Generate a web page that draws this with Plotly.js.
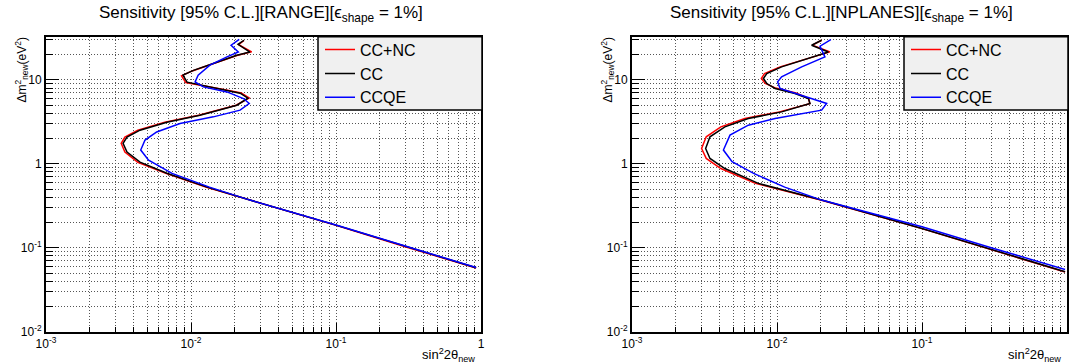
<!DOCTYPE html>
<html>
<head>
<meta charset="utf-8">
<script src="https://cdn.plot.ly/plotly-3.0.1.min.js"></script>
<style>html,body{margin:0;padding:0;background:#fff;}#plot{width:1070px;height:364px;}</style>
</head>
<body>
<div id="plot"></div>
<script>
// ---------- data ----------
const seriesNames = ['CC+NC', 'CC', 'CCQE'];
const seriesColors = ['#ff0000', '#000000', '#0000ff'];

// RANGE panel
const range_ccnc_x = [0.0232,0.0213,0.0262,0.0207,0.0140,0.0102,0.0086,0.0092,0.0175,0.0222,0.0252,0.0205,0.0113,0.0066,0.0043,0.0035,0.0033,0.0035,0.0043,0.0067,0.0128,0.0255,0.1,0.3,0.925];
const range_ccnc_y = [29.5,26.4,21.6,19.5,15.5,12.8,11.2,9.3,7.6,7.0,6.1,5.0,3.8,3.14,2.52,2.08,1.76,1.38,1.04,0.77,0.527,0.37,0.185,0.103,0.0575];
const range_cc_x = [0.0232,0.0211,0.0255,0.0207,0.01426,0.0104,0.0088,0.0094,0.0177,0.0218,0.0247,0.0207,0.01153,0.00682,0.00445,0.00362,0.0034,0.00362,0.00445,0.00682,0.0129,0.0255,0.1,0.3,0.925];
const range_cc_y = [29.7,26.6,21.5,19.7,15.7,13.0,11.4,9.4,7.5,6.95,6.06,5.0,3.8,3.13,2.52,2.08,1.76,1.38,1.05,0.774,0.528,0.37,0.186,0.104,0.0578];
const range_ccqe_x = [0.0215,0.0189,0.0212,0.0177,0.0135,0.0112,0.01067,0.01216,0.0177,0.023,0.0252,0.0218,0.01426,0.0084,0.0058,0.00482,0.0045,0.0049,0.0051,0.0074,0.0134,0.0255,0.1,0.3,0.925];
const range_ccqe_y = [30.5,25.9,21.5,18.8,15.0,11.4,9.47,8.26,7.2,6.0,5.24,4.36,3.63,3.03,2.4,1.92,1.46,1.2,1.107,0.77,0.528,0.37,0.187,0.105,0.0582];

// NPLANES panel
const nplanes_ccnc_x = [0.0203,0.0175,0.0232,0.0164,0.0105,0.0082,0.0078,0.0083,0.0098,0.0135,0.0166,0.0168,0.0104,0.0060,0.0041,0.00325,0.00302,0.00325,0.0041,0.0071,0.0200,0.1,0.3,0.97];
const nplanes_ccnc_y = [29.7,26.0,21.6,18.0,14.3,11.9,10.4,9.1,8.0,7.0,6.0,5.2,4.16,3.47,2.76,2.1,1.52,1.16,0.88,0.585,0.37,0.169,0.095,0.0515];
const nplanes_cc_x = [0.0203,0.01733,0.0226,0.01644,0.01076,0.0085,0.00806,0.0085,0.0097,0.0133,0.01644,0.0169,0.01076,0.00634,0.00437,0.00345,0.00322,0.00345,0.00437,0.00743,0.0203,0.1,0.3,0.97];
const nplanes_cc_y = [29.7,25.9,21.5,18.0,14.3,11.9,10.4,9.06,7.9,6.89,6.0,5.24,4.16,3.47,2.76,2.1,1.52,1.16,0.88,0.585,0.37,0.17,0.096,0.0518];
const nplanes_ccqe_x = [0.0235,0.0198,0.0214,0.0148,0.01076,0.0101,0.0105,0.0156,0.022,0.0203,0.0097,0.00634,0.00474,0.00427,0.0049,0.0069,0.0113,0.0203,0.1,0.3,0.97];
const nplanes_ccqe_y = [30.3,25.2,18.8,14.3,10.9,9.47,7.9,6.28,5.24,4.36,3.47,2.89,2.2,1.46,1.06,0.77,0.528,0.37,0.178,0.1,0.0552];

// axis ticks
const xMajor = [0.001, 0.01, 0.1, 1];
const xMajorText = ['10<sup>-3</sup>', '10<sup>-2</sup>', '10<sup>-1</sup>', '1'];
const yMajor = [0.01, 0.1, 1, 10];
const yMajorText = ['10<sup>-2</sup>', '10<sup>-1</sup>', '1', '10'];
const titles = ['Sensitivity [95% C.L.][RANGE][ϵ<sub>shape</sub> = 1%]',
                'Sensitivity [95% C.L.][NPLANES][ϵ<sub>shape</sub> = 1%]'];

// ---------- build ----------
function minorVals(startExp, endVal) {
  const v = [];
  for (let e = startExp; e < 3; e++) {
    for (let m = 2; m <= 9; m++) {
      const val = m * Math.pow(10, e);
      if (val < endVal) v.push(val);
    }
  }
  return v;
}
const xMinor = minorVals(-3, 1);
const yMinor = minorVals(-2, 33);

const W = 1070, H = 364;
const FONT = 'Liberation Sans, Arial, Helvetica, sans-serif';
const GRIDC = '#555', GRIDD = '1px,2px';
const panels = [
  {xs: [range_ccnc_x, range_cc_x, range_ccqe_x], ys: [range_ccnc_y, range_cc_y, range_ccqe_y], left: 46, right: 481, title: titles[0], tcx: 261},
  {xs: [nplanes_ccnc_x, nplanes_cc_x, nplanes_ccqe_x], ys: [nplanes_ccnc_y, nplanes_cc_y, nplanes_ccqe_y], left: 632, right: 1067, title: titles[1], tcx: 841}
];
const frameTop = 36.7, frameBottom = 331.7;

const data = [];
const layout = {
  width: W, height: H,
  margin: {l: 0, r: 0, t: 0, b: 0},
  paper_bgcolor: '#fff', plot_bgcolor: '#fff',
  font: {family: FONT, color: '#000'},
  showlegend: true,
  annotations: [], shapes: []
};

panels.forEach((p, i) => {
  const sfx = i === 0 ? '' : '2';
  for (let k = 0; k < 3; k++) {
    data.push({
      x: p.xs[k], y: p.ys[k], type: 'scatter', mode: 'lines',
      name: seriesNames[k],
      line: {color: seriesColors[k], width: 1.5},
      xaxis: 'x' + sfx, yaxis: 'y' + sfx,
      legend: 'legend' + sfx
    });
  }
  const axCommon = {
    type: 'log', showline: true, linecolor: '#000', linewidth: 2, mirror: true,
    showgrid: true, gridcolor: GRIDC, gridwidth: 1, griddash: GRIDD,
    ticks: 'inside', tickcolor: '#000', tickwidth: 1,
    tickfont: {family: FONT, size: 12, color: '#000'},
    tickmode: 'array', zeroline: false, fixedrange: true
  };
  layout['xaxis' + sfx] = Object.assign({}, axCommon, {
    domain: [p.left / W, p.right / W], range: [-3, 0],
    anchor: 'y' + sfx, tickvals: xMajor, ticktext: xMajorText, ticklen: 9,
    minor: {tickmode: 'array', tickvals: xMinor, ticks: 'inside', ticklen: 4.5, tickcolor: '#000', tickwidth: 1,
            showgrid: true, gridcolor: GRIDC, gridwidth: 1, griddash: GRIDD}
  });
  layout['yaxis' + sfx] = Object.assign({}, axCommon, {
    domain: [1 - frameBottom / H, 1 - frameTop / H], range: [-2, 1.515],
    anchor: 'x' + sfx, tickvals: yMajor, ticktext: yMajorText, ticklen: 13,
    minor: {tickmode: 'array', tickvals: yMinor, ticks: 'inside', ticklen: 6.5, tickcolor: '#000', tickwidth: 1,
            showgrid: true, gridcolor: GRIDC, gridwidth: 1, griddash: GRIDD}
  });
  layout['legend' + sfx] = {
    x: (p.left + 274) / W, y: 1 - (frameTop - 4) / H, xanchor: 'left', yanchor: 'top',
    bgcolor: 'rgba(0,0,0,0)', borderwidth: 0,
    font: {family: FONT, size: 16, color: '#000'}
  };
  layout.shapes.push({
    type: 'rect', xref: 'paper', yref: 'paper', layer: 'above',
    x0: (p.left + 272) / W, x1: (p.right + 1) / W, y0: 1 - 110 / H, y1: 1 - frameTop / H,
    fillcolor: '#f0f0f0', line: {color: '#000', width: 1.5}
  });
  layout.annotations.push({
    xref: 'paper', yref: 'paper', x: p.tcx / W, y: 1 - 14 / H, xanchor: 'center', yanchor: 'middle',
    text: p.title, showarrow: false, font: {family: FONT, size: 17, color: '#000'}
  });
  layout.annotations.push({
    xref: 'paper', yref: 'paper', x: (p.right - 4) / W, y: 1 - 344 / H, xanchor: 'right', yanchor: 'top',
    text: 'sin<sup>2</sup>2θ<sub>new</sub>', showarrow: false, font: {family: FONT, size: 13, color: '#000'}
  });
  layout.annotations.push({
    xref: 'paper', yref: 'paper', x: (p.left - 25) / W, y: 1 - 36 / H, xanchor: 'center', yanchor: 'top',
    text: 'Δm<sup>2</sup><sub>new</sub>(eV<sup>2</sup>)', textangle: -90, showarrow: false,
    font: {family: FONT, size: 12, color: '#000'}
  });
});

Plotly.newPlot('plot', data, layout, {displayModeBar: false, staticPlot: true});
</script>
</body>
</html>
